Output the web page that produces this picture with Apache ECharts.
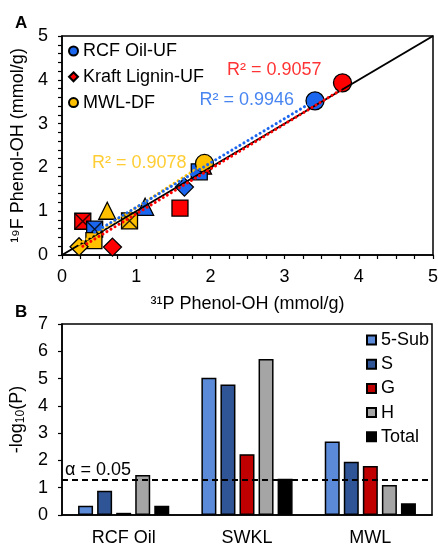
<!DOCTYPE html>
<html><head><meta charset="utf-8">
<script src="https://cdn.jsdelivr.net/npm/echarts@6/dist/echarts.min.js"></script>
<style>html,body{margin:0;padding:0;background:#fff}#c{width:438px;height:544px}</style>
</head><body><div id="c"></div>
<script>
// ---------- Panel A data ----------
const shapes = ['circle', 'xsquare', 'rect', 'diamond', 'triangle'];
const rcfX   = [3.41, 0.44, 1.85, 1.65, 1.12];
const rcfY   = [3.52, 0.59, 1.90, 1.55, 1.10];
const kraftX = [3.78, 0.28, 1.59, 0.68, 1.90];
const kraftY = [3.93, 0.77, 1.07, 0.18, 2.04];
const mwlX   = [1.92, 0.91, 0.43, 0.23, 0.61];
const mwlY   = [2.09, 0.78, 0.33, 0.19, 1.01];
const rcfFit   = [[0.44, 0.52], [3.41, 3.53]];
const kraftFit = [[0.28, 0.20], [3.78, 3.79]];
const mwlFit   = [[0.23, 0.25], [1.92, 2.08]];
const identityLine = [[0, 0], [5, 5]];
const r2Values = ['0.9057', '0.9946', '0.9078'];
const scatterNames = ['RCF Oil-UF', 'Kraft Lignin-UF', 'MWL-DF'];
const axisTicksA = [0, 1, 2, 3, 4, 5];

// ---------- Panel B data ----------
const categories = ['RCF Oil', 'SWKL', 'MWL'];
const barNames = ['5-Sub', 'S', 'G', 'H', 'Total'];
const sub5  = [0.34, 5.03, 2.69];
const sVal  = [0.89, 4.78, 1.95];
const gVal  = [0.08, 2.23, 1.80];
const hVal  = [1.47, 5.72, 1.10];
const total = [0.34, 1.33, 0.43];
const alphaLine = 1.301;
const alphaText = 'α = 0.05';

// ---------- styles ----------
const FONT = 'Liberation Sans, Arial, sans-serif';
const cBlue = '#1a66ee', cRed = '#ff0000', cYel = '#ffc000';
const barColors = ['#5b8bd8', '#2f5597', '#c00000', '#a5a5a5', '#000000'];
const symSize = {circle: 18, xsquare: 16, rect: 16, diamond: 18, triangle: 17};
const r2Anchor = [[2.86, 4.22], [2.49, 3.54], [1.04, 2.10]];

function markers(xs, ys) {
  return xs.map((x, i) => ({
    value: [x, ys[i]],
    symbol: shapes[i] === 'xsquare' ? 'rect' : shapes[i],
    symbolSize: symSize[shapes[i]]
  }));
}
function crosses(xs, ys) {
  return xs.map((x, i) => [x, ys[i]]).filter((p, i) => shapes[i] === 'xsquare');
}
function scatterSeries(name, xs, ys, color) {
  return [{
    name: name, type: 'scatter', xAxisIndex: 0, yAxisIndex: 0,
    data: markers(xs, ys),
    itemStyle: {color: color, borderColor: '#000', borderWidth: 1.3, opacity: 1}
  }, {
    type: 'scatter', xAxisIndex: 0, yAxisIndex: 0,
    data: crosses(xs, ys), symbol: 'path://M0,0L10,10M10,0L0,10', symbolSize: 16,
    itemStyle: {color: 'rgba(0,0,0,0)', borderColor: '#000', borderWidth: 1.5},
    silent: true
  }];
}
function fitSeries(data, color) {
  return {
    type: 'line', xAxisIndex: 0, yAxisIndex: 0, data: data, showSymbol: false, symbol: 'none',
    lineStyle: {color: color, width: 3, type: [0.1, 4.6], cap: 'round'}, silent: true
  };
}
function r2Series(i, color) {
  return {
    type: 'scatter', xAxisIndex: 0, yAxisIndex: 0, symbolSize: 1,
    itemStyle: {color: 'rgba(0,0,0,0)'},
    data: [r2Anchor[i]],
    label: {show: true, position: 'inside', formatter: 'R² = ' + r2Values[i],
            color: color, fontSize: 18, fontFamily: FONT},
    silent: true
  };
}

const barData = [sub5, sVal, gVal, hVal, total];
const barSeries = barNames.map((n, i) => ({
  name: n, type: 'bar', xAxisIndex: 1, yAxisIndex: 1,
  data: barData[i], barWidth: 15, barGap: '27%',
  itemStyle: {color: barColors[i], borderColor: '#000', borderWidth: 1.5}
}));
barSeries[0].markLine = {
  silent: true, symbol: 'none',
  lineStyle: {color: '#000', width: 2, type: [6, 4]},
  label: {show: true, position: 'insideStartTop', formatter: alphaText,
          color: '#000', fontSize: 18, fontFamily: FONT, distance: [3, 0]},
  data: [{yAxis: alphaLine}]
};

const axisLineStyle = {show: true, lineStyle: {color: '#000', width: 1.5}};
const labelStyle = {color: '#000', fontSize: 18, fontFamily: FONT};

const chart = echarts.init(document.getElementById('c'), null, {renderer: 'canvas'});
chart.setOption({
  animation: false,
  backgroundColor: '#fff',
  textStyle: {fontFamily: FONT},
  grid: [
    {left: 62, right: 5, top: 36, bottom: 289, show: true, borderColor: '#000', borderWidth: 1.5,
     backgroundColor: 'transparent', containLabel: false, outerBoundsMode: 'none'},
    {left: 62, right: 6, top: 324, bottom: 29, show: true, borderColor: '#000', borderWidth: 1.5,
     backgroundColor: 'transparent', containLabel: false, outerBoundsMode: 'none'}
  ],
  xAxis: [{
    type: 'value', gridIndex: 0, min: axisTicksA[0], max: axisTicksA[axisTicksA.length - 1], interval: 1,
    axisLine: axisLineStyle,
    axisTick: {show: true, length: 4, lineStyle: {color: '#000', width: 1.2}},
    minorTick: {show: true, splitNumber: 4, length: 4, lineStyle: {color: '#000', width: 1.2}},
    splitLine: {show: false},
    axisLabel: Object.assign({margin: 13}, labelStyle),
    name: '³¹P Phenol-OH (mmol/g)', nameLocation: 'middle', nameGap: 40,
    nameTextStyle: {color: '#000', fontSize: 18, fontFamily: FONT}
  }, {
    type: 'category', gridIndex: 1, data: categories,
    axisLine: axisLineStyle, axisTick: {show: false},
    axisLabel: Object.assign({margin: 14}, labelStyle)
  }],
  yAxis: [{
    type: 'value', gridIndex: 0, min: axisTicksA[0], max: axisTicksA[axisTicksA.length - 1], interval: 1,
    axisLine: axisLineStyle,
    axisTick: {show: true, length: 4, lineStyle: {color: '#000', width: 1.2}},
    minorTick: {show: true, splitNumber: 5, length: 4, lineStyle: {color: '#000', width: 1.2}},
    splitLine: {show: false},
    axisLabel: Object.assign({margin: 14}, labelStyle),
    name: '¹⁹F Phenol-OH (mmol/g)', nameLocation: 'middle', nameGap: 35, nameRotate: 90,
    nameTextStyle: {color: '#000', fontSize: 18, fontFamily: FONT}
  }, {
    type: 'value', gridIndex: 1, min: 0, max: 7, interval: 1,
    axisLine: axisLineStyle,
    axisTick: {show: true, length: 4, lineStyle: {color: '#000', width: 1.2}},
    splitLine: {show: false},
    axisLabel: Object.assign({margin: 14}, labelStyle),
    name: '-log{s|10}(P)', nameLocation: 'middle', nameGap: 33, nameRotate: 90,
    nameTextStyle: {color: '#000', fontSize: 18, fontFamily: FONT,
      rich: {s: {fontSize: 12, fontFamily: FONT, color: '#000', padding: [8, 0, 0, 0]}}}
  }],
  legend: [{
    orient: 'vertical', left: 63, top: 37, itemGap: 7.8, itemWidth: 9, itemHeight: 9,
    textStyle: {color: '#000', fontSize: 18, fontFamily: FONT},
    data: [{name: scatterNames[0], icon: 'circle'}, {name: scatterNames[1], icon: 'diamond'}, {name: scatterNames[2], icon: 'circle'}],
    selectedMode: false
  }, {
    orient: 'vertical', left: 361, top: 326, itemGap: 6.2, itemWidth: 9, itemHeight: 9, icon: 'rect',
    textStyle: {color: '#000', fontSize: 18, fontFamily: FONT},
    data: barNames, selectedMode: false
  }],
  graphic: [
    {type: 'text', left: 15, top: 15, style: {text: 'A', font: 'bold 17px ' + FONT, fill: '#000'}},
    {type: 'text', left: 15, top: 304, style: {text: 'B', font: 'bold 17px ' + FONT, fill: '#000'}}
  ],
  series: [
    {type: 'line', xAxisIndex: 0, yAxisIndex: 0, data: identityLine, showSymbol: false, symbol: 'none',
     lineStyle: {color: '#000', width: 2}, silent: true},
    ...scatterSeries(scatterNames[1], kraftX, kraftY, cRed),
    ...scatterSeries(scatterNames[0], rcfX, rcfY, cBlue),
    ...scatterSeries(scatterNames[2], mwlX, mwlY, cYel),
    fitSeries(mwlFit, cYel),
    fitSeries(rcfFit, cBlue),
    fitSeries(kraftFit, cRed),
    r2Series(0, cRed), r2Series(1, cBlue), r2Series(2, cYel),
    ...barSeries
  ]
});
</script></body></html>
